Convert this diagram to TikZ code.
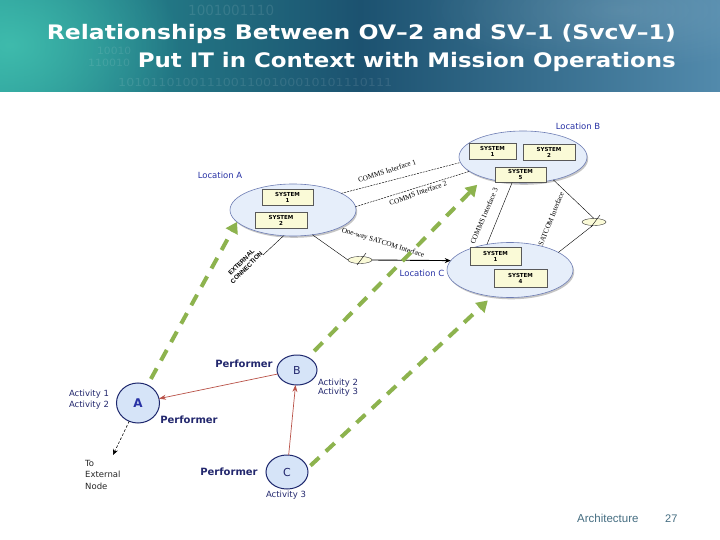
\documentclass[tikz,border=0pt]{standalone}
\usepackage{fontspec}
\usepackage{graphicx}
\setmainfont{DejaVu Sans}
\newfontfamily\serifsm{Liberation Serif}
\newfontfamily\arialf{Liberation Sans}
\usetikzlibrary{shapes.geometric,arrows.meta,shadows,fadings}
\tikzfading[name=myglow, inner color=transparent!0, outer color=transparent!100]
\definecolor{bnL}{RGB}{40,150,150}
\definecolor{bnM}{RGB}{28,82,112}
\definecolor{bnR}{RGB}{82,138,172}
\definecolor{bnGlow}{RGB}{70,200,180}
\definecolor{locFill}{RGB}{230,238,250}
\definecolor{locBorder}{RGB}{110,125,180}
\definecolor{locText}{RGB}{40,50,165}
\definecolor{sysFill}{RGB}{250,250,215}
\definecolor{grn}{RGB}{141,179,78}
\definecolor{pFill}{RGB}{214,228,248}
\definecolor{pBorder}{RGB}{30,40,110}
\definecolor{navy}{RGB}{35,40,110}
\definecolor{redc}{RGB}{185,82,72}
\definecolor{footc}{RGB}{70,110,130}
\begin{document}
\begin{tikzpicture}[x=1pt,y=-1pt,
  loc/.style={ellipse, draw=locBorder, fill=locFill, line width=0.6pt, inner sep=0pt, outer sep=0pt,
    drop shadow={shadow xshift=1.2pt, shadow yshift=-1.8pt, opacity=0.45, fill=gray}},
  sysbox/.style={draw=gray!70!black, fill=sysFill, line width=0.4pt, inner sep=0pt, align=center,
    font=\bfseries\fontsize{5.5}{6}\selectfont},
  loclabel/.style={text=locText, font=\fontsize{8.5}{10}\selectfont, inner sep=0pt},
  ilabel/.style={font=\serifsm\fontsize{7.3}{8}\selectfont, inner sep=0pt},
  thinl/.style={draw=black, line width=0.4pt},
  comm/.style={draw=black, line width=0.45pt, dash pattern=on 2pt off 1pt},
  antenna/.style={ellipse, draw=black!80, fill=sysFill, line width=0.4pt, minimum width=24pt, minimum height=7pt, inner sep=0pt, outer sep=0pt},
  garrow/.style={draw=grn, line width=4pt, dash pattern=on 12pt off 9pt, -{Triangle[length=11pt,width=13pt]}},
  pnode/.style={ellipse, draw=pBorder, fill=pFill, line width=1pt, inner sep=0pt, outer sep=0pt},
  redarrow/.style={draw=redc, line width=0.7pt, -{Stealth[length=7pt,width=5pt]}},
  perf/.style={text=navy, font=\bfseries\fontsize{10}{12}\selectfont, inner sep=0pt},
  act/.style={text=navy, font=\fontsize{8.5}{10}\selectfont, inner sep=0pt, align=center},
  digits/.style={text=white, text opacity=0.1, inner sep=0pt, anchor=base west}
]
\useasboundingbox (0,0) rectangle (720,540);
\fill[white] (0,0) rectangle (720,540);
% banner
\begin{scope}
  \clip (0,0) rectangle (720,92);
  \shade[left color=bnL, right color=bnR, middle color=bnM] (0,0) rectangle (720,92);
  \fill[bnGlow, path fading=myglow, opacity=0.75] (10,45) ellipse (170 and 120);
  \fill[white, path fading=myglow, opacity=0.12] (620,10) ellipse (200 and 60);
  \node[digits, font=\fontsize{14}{16}\selectfont] (dg1) at (188,16) {\resizebox{86pt}{\height}{1001001110}};
  \node[digits, font=\fontsize{10}{12}\selectfont] (dg2) at (97,55) {\resizebox{34pt}{\height}{10010}};
  \node[digits, font=\fontsize{10}{12}\selectfont] (dg3) at (88,67) {\resizebox{42pt}{\height}{110010}};
  \node[digits, font=\fontsize{11}{12}\selectfont] (dg4) at (118,87) {\resizebox{274pt}{\height}{1010110100111001100100010101110111}};
\end{scope}
\node[anchor=base east, text=white, inner sep=0pt] (t1) at (676,40)
  {\resizebox{629pt}{\height}{\bfseries\fontsize{20}{24}\selectfont Relationships Between OV–2 and SV–1 (SvcV–1)}};
\node[anchor=base east, text=white, inner sep=0pt] (t2) at (676,68)
  {\resizebox{538pt}{\height}{\bfseries\fontsize{20}{24}\selectfont Put IT in Context with Mission Operations}};

% locations
\node[loc, minimum width=126pt, minimum height=52pt] (locA) at (293,210) {};
\node[loc, minimum width=128pt, minimum height=52pt] (locB) at (523,157) {};
\node[loc, minimum width=126pt, minimum height=55pt] (locC) at (510,270) {};

\node[sysbox, minimum width=51pt, minimum height=16pt] (sA1) at (287.5,197.5) {SYSTEM\\1};
\node[sysbox, minimum width=52pt, minimum height=16pt] (sA2) at (281,220.5) {SYSTEM\\2};
\node[sysbox, minimum width=47pt, minimum height=16pt] (sB1) at (492.5,151) {SYSTEM\\1};
\node[sysbox, minimum width=52pt, minimum height=16pt] (sB2) at (549,152) {SYSTEM\\2};
\node[sysbox, minimum width=51pt, minimum height=15pt] (sB5) at (520.5,174.5) {SYSTEM\\5};
\node[sysbox, minimum width=51pt, minimum height=18pt] (sC1) at (495.5,256.5) {SYSTEM\\1};
\node[sysbox, minimum width=53pt, minimum height=18pt] (sC4) at (520.5,278.5) {SYSTEM\\4};

\node[loclabel] (lA) at (220,175) {Location A};
\node[loclabel] (lB) at (578,126) {Location B};
\node[loclabel] (lC) at (422,273) {Location C};

% antennas
\node[antenna] (ant1) at (360,260) {};
\node[antenna] (ant2) at (594,222) {};
\draw[thinl] ([shift={(-3,5)}]ant1.center) -- ([shift={(6,-7)}]ant1.center);
\draw[thinl] ([shift={(-3,5)}]ant2.center) -- ([shift={(6,-7)}]ant2.center);

% network connectors
\draw[comm] (locA.19) -- (locB.185);
\draw[comm] (locA.3) -- (locB.195);
\draw[thinl] (locA.-52) -- (ant1.west);
\draw[draw=black, line width=0.9pt, -{Stealth[length=6pt,width=5pt]}] (ant1.east) -- (locC.171);
\coordinate (extc) at (263,255);
\draw[thinl] (locA.-110) -- (extc);
\draw[thinl] (locB.-113) -- (locC.132);
\draw[thinl] (locB.-37) -- (ant2.north);
\draw[thinl] (ant2.250) -- (locC.20);

\node[ilabel, rotate=18] (c1) at (387,171) {COMMS Interface 1};
\node[ilabel, rotate=20] (c2) at (418,193) {COMMS Interface 2};
\node[ilabel, rotate=-17] (ow) at (383,243) {One-way SATCOM Interface};
\node[ilabel, rotate=67] (c3) at (484,216) {COMMS Interface 3};
\node[ilabel, rotate=68] (sat) at (551,219) {SATCOM Interface};
\node[rotate=45, align=center, inner sep=0pt, font=\arialf\bfseries\fontsize{6.3}{7.5}\selectfont] (ext) at (244,265) {EXTERNAL\\CONNECTION};

% operational nodes
\node[pnode, minimum width=43pt, minimum height=40pt, text=locText, font=\bfseries\fontsize{12}{14}\selectfont] (nA) at (138,403) {A};
\node[pnode, minimum width=40pt, minimum height=30pt, text=navy, font=\fontsize{11}{13}\selectfont] (nB) at (297,370) {B};
\node[pnode, minimum width=42pt, minimum height=34pt, text=navy, font=\fontsize{11}{13}\selectfont] (nC) at (287,472) {C};
\coordinate (extn) at (113,455);
\draw[redarrow] (nB) -- (nA);
\draw[redarrow] (nC) -- (nB);
\draw[draw=black, line width=0.6pt, dash pattern=on 2.5pt off 2pt, -{Stealth[length=6pt,width=5pt]}] (nA) -- (extn);

\node[perf] (pB) at (244,364) {Performer};
\node[perf] (pA) at (189,420) {Performer};
\node[perf] (pC) at (229,472) {Performer};
\node[act] (aA) at (89,400) {Activity 1\\[1pt]Activity 2};
\node[act] (aB) at (338,388) {Activity 2\\[-1pt]Activity 3};
\node[act] (aC) at (286,495) {Activity 3};
\node[anchor=north west, align=left, inner sep=0pt, text=black!85, font=\fontsize{8.5}{11.5}\selectfont] (tx) at (85,460) {To\\External\\Node};

% green mapping arrows
\draw[garrow, shorten <=7pt] (nA.62) -- (locA.192);
\draw[garrow, shorten <=9pt, shorten >=10pt] (nB.49) -- (locB.208);
\draw[garrow, shorten <=4pt, shorten >=6pt] (nC.10) -- (locC.-124);

% footer
\node[anchor=base west, inner sep=0pt, text=footc, font=\arialf\fontsize{11.5}{13}\selectfont] (f1) at (577,522) {Architecture};
\node[anchor=base west, inner sep=0pt, text=footc, font=\arialf\fontsize{11}{13}\selectfont] (f2) at (665,522) {27};
\end{tikzpicture}
\end{document}
